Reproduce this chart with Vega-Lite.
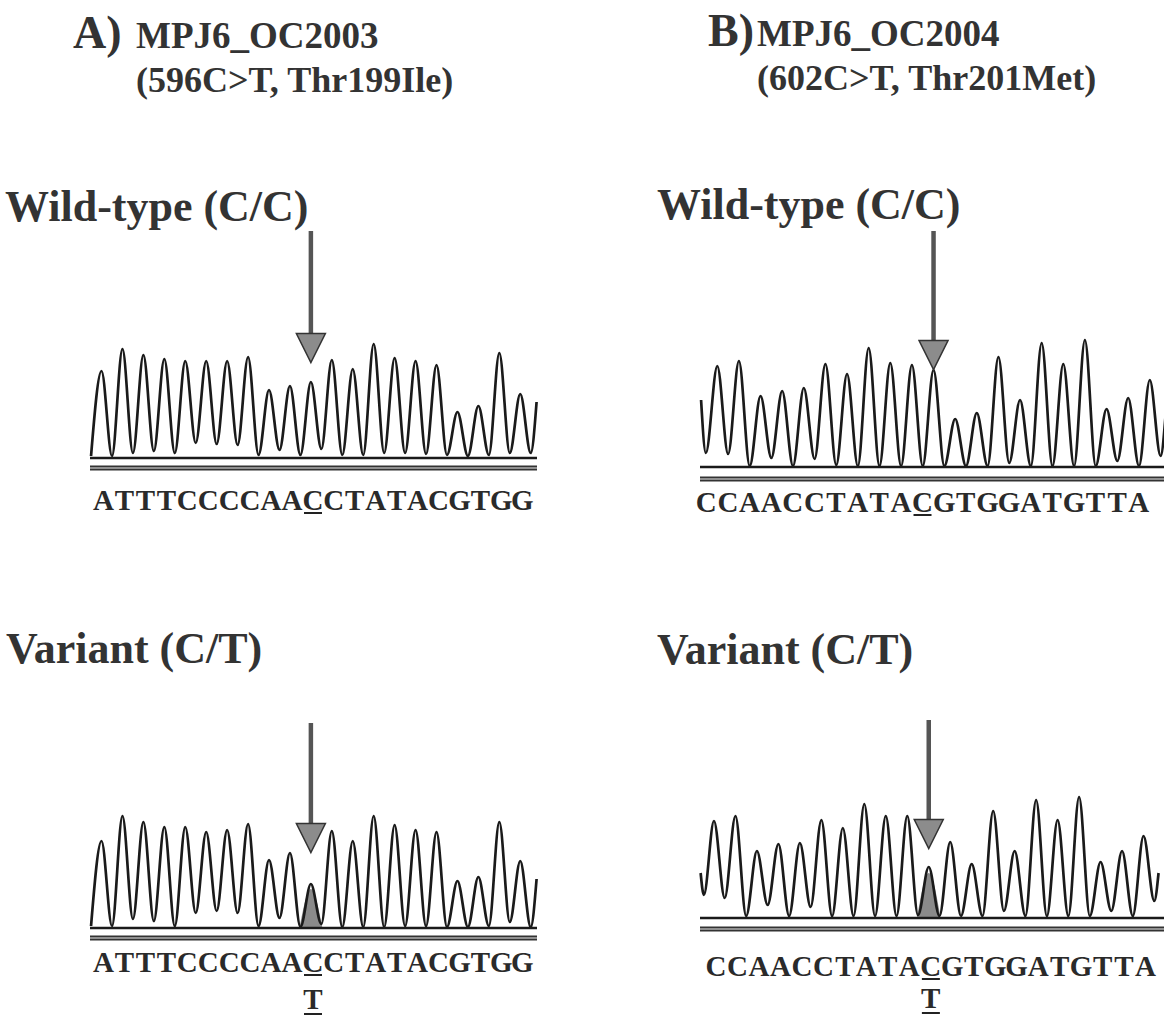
{
  "$schema": "https://vega.github.io/schema/vega-lite/v6.json",
  "background": "white",
  "padding": {"left": 5, "top": 8, "right": 0, "bottom": 0},
  "config": {
    "view": {"stroke": null},
    "title": {"font": "Liberation Serif", "fontWeight": "bold", "color": "#333", "anchor": "start", "frame": "group", "baseline": "alphabetic", "subtitleFont": "Liberation Serif", "subtitleFontWeight": "bold", "subtitleColor": "#333"},
    "point": {"opacity": 1}
  },
  "datasets": {
    "A_wild": [
      {"pos": 0.5, "sig": 2},
      {"pos": 1, "sig": 87}, {"pos": 1.5, "sig": 2},
      {"pos": 2, "sig": 109}, {"pos": 2.5, "sig": 5},
      {"pos": 3, "sig": 103}, {"pos": 3.5, "sig": 7},
      {"pos": 4, "sig": 99}, {"pos": 4.5, "sig": 5},
      {"pos": 5, "sig": 97}, {"pos": 5.5, "sig": 15},
      {"pos": 6, "sig": 97}, {"pos": 6.5, "sig": 14},
      {"pos": 7, "sig": 97}, {"pos": 7.5, "sig": 13},
      {"pos": 8, "sig": 101}, {"pos": 8.5, "sig": 3},
      {"pos": 9, "sig": 68}, {"pos": 9.5, "sig": 8},
      {"pos": 10, "sig": 72}, {"pos": 10.5, "sig": 3},
      {"pos": 11, "sig": 76}, {"pos": 11.5, "sig": 9},
      {"pos": 12, "sig": 98}, {"pos": 12.5, "sig": 3},
      {"pos": 13, "sig": 89}, {"pos": 13.5, "sig": 3},
      {"pos": 14, "sig": 114}, {"pos": 14.5, "sig": 5},
      {"pos": 15, "sig": 100}, {"pos": 15.5, "sig": 5},
      {"pos": 16, "sig": 97}, {"pos": 16.5, "sig": 4},
      {"pos": 17, "sig": 93}, {"pos": 17.5, "sig": 3},
      {"pos": 18, "sig": 46}, {"pos": 18.5, "sig": 2},
      {"pos": 19, "sig": 52}, {"pos": 19.5, "sig": 3},
      {"pos": 20, "sig": 105}, {"pos": 20.5, "sig": 5},
      {"pos": 21, "sig": 64}, {"pos": 21.5, "sig": 5},
      {"pos": 21.78, "sig": 56}
    ],
    "A_var": [
      {"pos": 0.5, "sig": 2},
      {"pos": 1, "sig": 87}, {"pos": 1.5, "sig": 2},
      {"pos": 2, "sig": 112}, {"pos": 2.5, "sig": 9},
      {"pos": 3, "sig": 106}, {"pos": 3.5, "sig": 7},
      {"pos": 4, "sig": 101}, {"pos": 4.5, "sig": 2},
      {"pos": 5, "sig": 101}, {"pos": 5.5, "sig": 15},
      {"pos": 6, "sig": 96}, {"pos": 6.5, "sig": 17},
      {"pos": 7, "sig": 98}, {"pos": 7.5, "sig": 15},
      {"pos": 8, "sig": 104}, {"pos": 8.5, "sig": 2},
      {"pos": 9, "sig": 68}, {"pos": 9.5, "sig": 10},
      {"pos": 10, "sig": 75}, {"pos": 10.5, "sig": 1},
      {"pos": 11, "sig": 44}, {"pos": 11.5, "sig": 4},
      {"pos": 12, "sig": 97}, {"pos": 12.5, "sig": 1},
      {"pos": 13, "sig": 87}, {"pos": 13.5, "sig": 1},
      {"pos": 14, "sig": 112}, {"pos": 14.5, "sig": 1},
      {"pos": 15, "sig": 103}, {"pos": 15.5, "sig": 2},
      {"pos": 16, "sig": 98}, {"pos": 16.5, "sig": 2},
      {"pos": 17, "sig": 96}, {"pos": 17.5, "sig": 1},
      {"pos": 18, "sig": 47}, {"pos": 18.5, "sig": 1},
      {"pos": 19, "sig": 51}, {"pos": 19.5, "sig": 2},
      {"pos": 20, "sig": 106}, {"pos": 20.5, "sig": 6},
      {"pos": 21, "sig": 67}, {"pos": 21.5, "sig": 1},
      {"pos": 21.78, "sig": 49}
    ],
    "A_var_minor": [
      {"pos": 10.45, "sig": 0}, {"pos": 11, "sig": 39}, {"pos": 11.55, "sig": 0}
    ],
    "B_wild": [
      {"pos": 0.25, "sig": 67}, {"pos": 0.47, "sig": 14},
      {"pos": 1, "sig": 101}, {"pos": 1.5, "sig": 13},
      {"pos": 2, "sig": 106}, {"pos": 2.5, "sig": 1},
      {"pos": 3, "sig": 71}, {"pos": 3.5, "sig": 9},
      {"pos": 4, "sig": 76}, {"pos": 4.5, "sig": 1},
      {"pos": 5, "sig": 79}, {"pos": 5.5, "sig": 8},
      {"pos": 6, "sig": 103}, {"pos": 6.5, "sig": 2},
      {"pos": 7, "sig": 93}, {"pos": 7.5, "sig": 1},
      {"pos": 8, "sig": 119}, {"pos": 8.5, "sig": 1},
      {"pos": 9, "sig": 104}, {"pos": 9.5, "sig": 1},
      {"pos": 10, "sig": 102}, {"pos": 10.5, "sig": 1},
      {"pos": 11, "sig": 97}, {"pos": 11.5, "sig": 1},
      {"pos": 12, "sig": 48}, {"pos": 12.5, "sig": 1},
      {"pos": 13, "sig": 54}, {"pos": 13.5, "sig": 1},
      {"pos": 14, "sig": 110}, {"pos": 14.5, "sig": 4},
      {"pos": 15, "sig": 67}, {"pos": 15.5, "sig": 1},
      {"pos": 16, "sig": 124}, {"pos": 16.5, "sig": 1},
      {"pos": 17, "sig": 103}, {"pos": 17.5, "sig": 1},
      {"pos": 18, "sig": 127}, {"pos": 18.5, "sig": 1},
      {"pos": 19, "sig": 58}, {"pos": 19.5, "sig": 6},
      {"pos": 20, "sig": 69}, {"pos": 20.5, "sig": 1},
      {"pos": 21, "sig": 87}, {"pos": 21.5, "sig": 11},
      {"pos": 21.72, "sig": 49}
    ],
    "B_var": [
      {"pos": 0.38, "sig": 45}, {"pos": 0.53, "sig": 23},
      {"pos": 1, "sig": 97}, {"pos": 1.5, "sig": 20},
      {"pos": 2, "sig": 102}, {"pos": 2.5, "sig": 2},
      {"pos": 3, "sig": 67}, {"pos": 3.5, "sig": 13},
      {"pos": 4, "sig": 74}, {"pos": 4.5, "sig": 2},
      {"pos": 5, "sig": 75}, {"pos": 5.5, "sig": 11},
      {"pos": 6, "sig": 98}, {"pos": 6.5, "sig": 2},
      {"pos": 7, "sig": 90}, {"pos": 7.5, "sig": 2},
      {"pos": 8, "sig": 114}, {"pos": 8.5, "sig": 2},
      {"pos": 9, "sig": 102}, {"pos": 9.5, "sig": 2},
      {"pos": 10, "sig": 102}, {"pos": 10.5, "sig": 3},
      {"pos": 11, "sig": 51}, {"pos": 11.5, "sig": 2},
      {"pos": 12, "sig": 76}, {"pos": 12.5, "sig": 2},
      {"pos": 13, "sig": 54}, {"pos": 13.5, "sig": 2},
      {"pos": 14, "sig": 107}, {"pos": 14.5, "sig": 7},
      {"pos": 15, "sig": 67}, {"pos": 15.5, "sig": 2},
      {"pos": 16, "sig": 118}, {"pos": 16.5, "sig": 2},
      {"pos": 17, "sig": 98}, {"pos": 17.5, "sig": 2},
      {"pos": 18, "sig": 121}, {"pos": 18.5, "sig": 2},
      {"pos": 19, "sig": 56}, {"pos": 19.5, "sig": 7},
      {"pos": 20, "sig": 67}, {"pos": 20.5, "sig": 2},
      {"pos": 21, "sig": 82}, {"pos": 21.5, "sig": 17},
      {"pos": 21.7, "sig": 45}
    ],
    "B_var_minor": [
      {"pos": 10.45, "sig": 0}, {"pos": 11, "sig": 45}, {"pos": 11.55, "sig": 0}
    ],
    "A_seq": [
      {"pos": 1, "base": "A"}, {"pos": 2, "base": "T"}, {"pos": 3, "base": "T"}, {"pos": 4, "base": "T"},
      {"pos": 5, "base": "C"}, {"pos": 6, "base": "C"}, {"pos": 7, "base": "C"}, {"pos": 8, "base": "C"},
      {"pos": 9, "base": "A"}, {"pos": 10, "base": "A"}, {"pos": 11, "base": "C"}, {"pos": 12, "base": "C"},
      {"pos": 13, "base": "T"}, {"pos": 14, "base": "A"}, {"pos": 15, "base": "T"}, {"pos": 16, "base": "A"},
      {"pos": 17, "base": "C"}, {"pos": 18, "base": "G"}, {"pos": 19, "base": "T"}, {"pos": 20, "base": "G"},
      {"pos": 21, "base": "G"}
    ],
    "B_seq": [
      {"pos": 1, "base": "C"}, {"pos": 2, "base": "C"}, {"pos": 3, "base": "A"}, {"pos": 4, "base": "A"},
      {"pos": 5, "base": "C"}, {"pos": 6, "base": "C"}, {"pos": 7, "base": "T"}, {"pos": 8, "base": "A"},
      {"pos": 9, "base": "T"}, {"pos": 10, "base": "A"}, {"pos": 11, "base": "C"}, {"pos": 12, "base": "G"},
      {"pos": 13, "base": "T"}, {"pos": 14, "base": "G"}, {"pos": 15, "base": "G"}, {"pos": 16, "base": "A"},
      {"pos": 17, "base": "T"}, {"pos": 18, "base": "G"}, {"pos": 19, "base": "T"}, {"pos": 20, "base": "T"},
      {"pos": 21, "base": "A"}
    ],
    "alt": [{"pos": 11, "base": "T"}]
  },
  "hconcat": [
    {
      "title": {"text": "A)", "font": "Liberation Serif", "fontSize": 46, "dx": -17, "dy": 40, "offset": 0},
      "vconcat": [
        {
          "title": {"text": "MPJ6_OC2003", "subtitle": "(596C>T, Thr199Ile)", "font": "Liberation Serif", "fontSize": 37, "subtitleFontSize": 36, "subtitlePadding": 8, "dx": 46, "offset": 86},
          "bounds": "flush",
          "spacing": 210,
          "vconcat": [
            {
              "width": 447, "height": 282,
              "title": {"text": "Wild-type (C/C)", "font": "Liberation Serif", "fontSize": 44, "dx": -85, "dy": 5, "offset": 4},
              "layer": [
                {"data": {"name": "A_wild"}, "mark": {"type": "line", "interpolate": "monotone", "color": "#1a1a1a", "strokeWidth": 2.7},
                 "encoding": {"x": {"field": "pos", "type": "quantitative", "scale": {"domain": [0.45, 21.8], "nice": false, "zero": false}, "axis": null},
                              "y": {"field": "sig", "type": "quantitative", "scale": {"domain": [-55, 227], "nice": false, "zero": false}, "axis": null}}},
                {"data": {"values": [{}]}, "mark": {"type": "rule", "color": "#1a1a1a", "strokeWidth": 2.5}, "encoding": {"y": {"datum": 0}}},
                {"data": {"values": [{}]}, "mark": {"type": "rule", "color": "#333", "strokeWidth": 5}, "encoding": {"y": {"datum": -10}}},
                {"data": {"values": [{}]}, "mark": {"type": "rule", "color": "#b0b0b0", "strokeWidth": 1.5}, "encoding": {"y": {"datum": -10}}},
                {"data": {"values": [{}]}, "mark": {"type": "rule", "color": "#555", "strokeWidth": 4.5}, "encoding": {"x": {"datum": 11}, "y": {"datum": 227}, "y2": {"datum": 112}}},
                {"data": {"values": [{}]}, "mark": {"type": "point", "shape": "M-1,-1L1,-1L0,1Z", "size": 841, "filled": true, "fill": "#8c8c8c", "stroke": "#333", "strokeWidth": 1.5}, "encoding": {"x": {"datum": 11}, "y": {"datum": 110}}},
                {"data": {"name": "A_seq"}, "mark": {"type": "text", "font": "Liberation Serif", "fontWeight": "bold", "fontSize": 29, "baseline": "alphabetic", "align": "center", "dx": 2, "color": "#2a2a2a"},
                 "encoding": {"x": {"field": "pos", "type": "quantitative"}, "y": {"datum": -52}, "text": {"field": "base"}}},
                {"data": {"values": [{}]}, "mark": {"type": "point", "shape": "stroke", "size": 324, "filled": false, "color": "#222", "strokeWidth": 2}, "encoding": {"x": {"datum": 11.1}, "y": {"datum": -55}}}
              ]
            },
            {
              "width": 447, "height": 293,
              "title": {"text": "Variant (C/T)", "font": "Liberation Serif", "fontSize": 44, "dx": -84, "offset": 49},
              "layer": [
                {"data": {"name": "A_var_minor"}, "mark": {"type": "area", "interpolate": "monotone", "color": "#8a8a8a", "opacity": 1},
                 "encoding": {"x": {"field": "pos", "type": "quantitative", "scale": {"domain": [0.45, 21.8], "nice": false, "zero": false}, "axis": null},
                              "y": {"field": "sig", "type": "quantitative", "scale": {"domain": [-88, 205], "nice": false, "zero": false}, "axis": null}}},
                {"data": {"name": "A_var"}, "mark": {"type": "line", "interpolate": "monotone", "color": "#1a1a1a", "strokeWidth": 2.7},
                 "encoding": {"x": {"field": "pos", "type": "quantitative"}, "y": {"field": "sig", "type": "quantitative"}}},
                {"data": {"values": [{}]}, "mark": {"type": "rule", "color": "#1a1a1a", "strokeWidth": 2.5}, "encoding": {"y": {"datum": 0}}},
                {"data": {"values": [{}]}, "mark": {"type": "rule", "color": "#333", "strokeWidth": 5}, "encoding": {"y": {"datum": -10}}},
                {"data": {"values": [{}]}, "mark": {"type": "rule", "color": "#b0b0b0", "strokeWidth": 1.5}, "encoding": {"y": {"datum": -10}}},
                {"data": {"values": [{}]}, "mark": {"type": "rule", "color": "#555", "strokeWidth": 4.5}, "encoding": {"x": {"datum": 11}, "y": {"datum": 205}, "y2": {"datum": 92}}},
                {"data": {"values": [{}]}, "mark": {"type": "point", "shape": "M-1,-1L1,-1L0,1Z", "size": 841, "filled": true, "fill": "#8c8c8c", "stroke": "#333", "strokeWidth": 1.5}, "encoding": {"x": {"datum": 11}, "y": {"datum": 90}}},
                {"data": {"name": "A_seq"}, "mark": {"type": "text", "font": "Liberation Serif", "fontWeight": "bold", "fontSize": 29, "baseline": "alphabetic", "align": "center", "dx": 2, "color": "#2a2a2a"},
                 "encoding": {"x": {"field": "pos", "type": "quantitative"}, "y": {"datum": -44}, "text": {"field": "base"}}},
                {"data": {"values": [{}]}, "mark": {"type": "point", "shape": "stroke", "size": 324, "filled": false, "color": "#222", "strokeWidth": 2}, "encoding": {"x": {"datum": 11.1}, "y": {"datum": -47}}},
                {"data": {"name": "alt"}, "mark": {"type": "text", "font": "Liberation Serif", "fontWeight": "bold", "fontSize": 29, "baseline": "alphabetic", "align": "center", "dx": 2, "color": "#2a2a2a"},
                 "encoding": {"x": {"field": "pos", "type": "quantitative"}, "y": {"datum": -81}, "text": {"field": "base"}}},
                {"data": {"values": [{}]}, "mark": {"type": "point", "shape": "stroke", "size": 324, "filled": false, "color": "#222", "strokeWidth": 2}, "encoding": {"x": {"datum": 11.1}, "y": {"datum": -86}}}
              ]
            }
          ]
        }
      ]
    },
    {
      "title": {"text": "B)", "font": "Liberation Serif", "fontSize": 46, "dx": 8, "dy": 40, "offset": 0},
      "vconcat": [
        {
          "title": {"text": "MPJ6_OC2004", "subtitle": "(602C>T, Thr201Met)", "font": "Liberation Serif", "fontSize": 37, "subtitleFontSize": 36, "subtitlePadding": 8, "dx": 57, "offset": 86},
          "bounds": "flush",
          "spacing": 203,
          "vconcat": [
            {
              "width": 466, "height": 286,
              "title": {"text": "Wild-type (C/C)", "font": "Liberation Serif", "fontSize": 44, "dx": -43, "dy": 5, "offset": 6},
              "layer": [
                {"data": {"name": "B_wild"}, "mark": {"type": "line", "interpolate": "monotone", "color": "#1a1a1a", "strokeWidth": 2.7},
                 "encoding": {"x": {"field": "pos", "type": "quantitative", "scale": {"domain": [0.2, 21.75], "nice": false, "zero": false}, "axis": null},
                              "y": {"field": "sig", "type": "quantitative", "scale": {"domain": [-50, 236], "nice": false, "zero": false}, "axis": null}}},
                {"data": {"values": [{}]}, "mark": {"type": "rule", "color": "#1a1a1a", "strokeWidth": 2.5}, "encoding": {"y": {"datum": 0}}},
                {"data": {"values": [{}]}, "mark": {"type": "rule", "color": "#333", "strokeWidth": 5}, "encoding": {"y": {"datum": -12}}},
                {"data": {"values": [{}]}, "mark": {"type": "rule", "color": "#b0b0b0", "strokeWidth": 1.5}, "encoding": {"y": {"datum": -12}}},
                {"data": {"values": [{}]}, "mark": {"type": "rule", "color": "#555", "strokeWidth": 4.5}, "encoding": {"x": {"datum": 11}, "y": {"datum": 236}, "y2": {"datum": 114}}},
                {"data": {"values": [{}]}, "mark": {"type": "point", "shape": "M-1,-1L1,-1L0,1Z", "size": 841, "filled": true, "fill": "#8c8c8c", "stroke": "#333", "strokeWidth": 1.5}, "encoding": {"x": {"datum": 11}, "y": {"datum": 112}}},
                {"data": {"name": "B_seq"}, "mark": {"type": "text", "font": "Liberation Serif", "fontWeight": "bold", "fontSize": 29, "baseline": "alphabetic", "align": "center", "dx": -11, "color": "#2a2a2a"},
                 "encoding": {"x": {"field": "pos", "type": "quantitative"}, "y": {"datum": -45}, "text": {"field": "base"}}},
                {"data": {"values": [{}]}, "mark": {"type": "point", "shape": "stroke", "size": 324, "filled": false, "color": "#222", "strokeWidth": 2}, "encoding": {"x": {"datum": 10.49}, "y": {"datum": -48}}}
              ]
            },
            {
              "width": 465, "height": 295,
              "title": {"text": "Variant (C/T)", "font": "Liberation Serif", "fontSize": 44, "dx": -43, "offset": 45},
              "layer": [
                {"data": {"name": "B_var_minor"}, "mark": {"type": "area", "interpolate": "monotone", "color": "#8a8a8a", "opacity": 1},
                 "encoding": {"x": {"field": "pos", "type": "quantitative", "scale": {"domain": [0.35, 22.0], "nice": false, "zero": false}, "axis": null},
                              "y": {"field": "sig", "type": "quantitative", "scale": {"domain": [-97, 198], "nice": false, "zero": false}, "axis": null}}},
                {"data": {"name": "B_var"}, "mark": {"type": "line", "interpolate": "monotone", "color": "#1a1a1a", "strokeWidth": 2.7},
                 "encoding": {"x": {"field": "pos", "type": "quantitative"}, "y": {"field": "sig", "type": "quantitative"}}},
                {"data": {"values": [{}]}, "mark": {"type": "rule", "color": "#1a1a1a", "strokeWidth": 2.5}, "encoding": {"y": {"datum": 0}}},
                {"data": {"values": [{}]}, "mark": {"type": "rule", "color": "#333", "strokeWidth": 5}, "encoding": {"y": {"datum": -11}}},
                {"data": {"values": [{}]}, "mark": {"type": "rule", "color": "#b0b0b0", "strokeWidth": 1.5}, "encoding": {"y": {"datum": -11}}},
                {"data": {"values": [{}]}, "mark": {"type": "rule", "color": "#555", "strokeWidth": 4.5}, "encoding": {"x": {"datum": 11}, "y": {"datum": 198}, "y2": {"datum": 86}}},
                {"data": {"values": [{}]}, "mark": {"type": "point", "shape": "M-1,-1L1,-1L0,1Z", "size": 841, "filled": true, "fill": "#8c8c8c", "stroke": "#333", "strokeWidth": 1.5}, "encoding": {"x": {"datum": 11}, "y": {"datum": 84}}},
                {"data": {"name": "B_seq"}, "mark": {"type": "text", "font": "Liberation Serif", "fontWeight": "bold", "fontSize": 29, "baseline": "alphabetic", "align": "center", "dx": 2, "color": "#2a2a2a"},
                 "encoding": {"x": {"field": "pos", "type": "quantitative"}, "y": {"datum": -58}, "text": {"field": "base"}}},
                {"data": {"values": [{}]}, "mark": {"type": "point", "shape": "stroke", "size": 324, "filled": false, "color": "#222", "strokeWidth": 2}, "encoding": {"x": {"datum": 11.1}, "y": {"datum": -61}}},
                {"data": {"name": "alt"}, "mark": {"type": "text", "font": "Liberation Serif", "fontWeight": "bold", "fontSize": 29, "baseline": "alphabetic", "align": "center", "dx": 2, "color": "#2a2a2a"},
                 "encoding": {"x": {"field": "pos", "type": "quantitative"}, "y": {"datum": -90}, "text": {"field": "base"}}},
                {"data": {"values": [{}]}, "mark": {"type": "point", "shape": "stroke", "size": 324, "filled": false, "color": "#222", "strokeWidth": 2}, "encoding": {"x": {"datum": 11.1}, "y": {"datum": -95}}}
              ]
            }
          ]
        }
      ]
    }
  ],
  "spacing": 115
}
